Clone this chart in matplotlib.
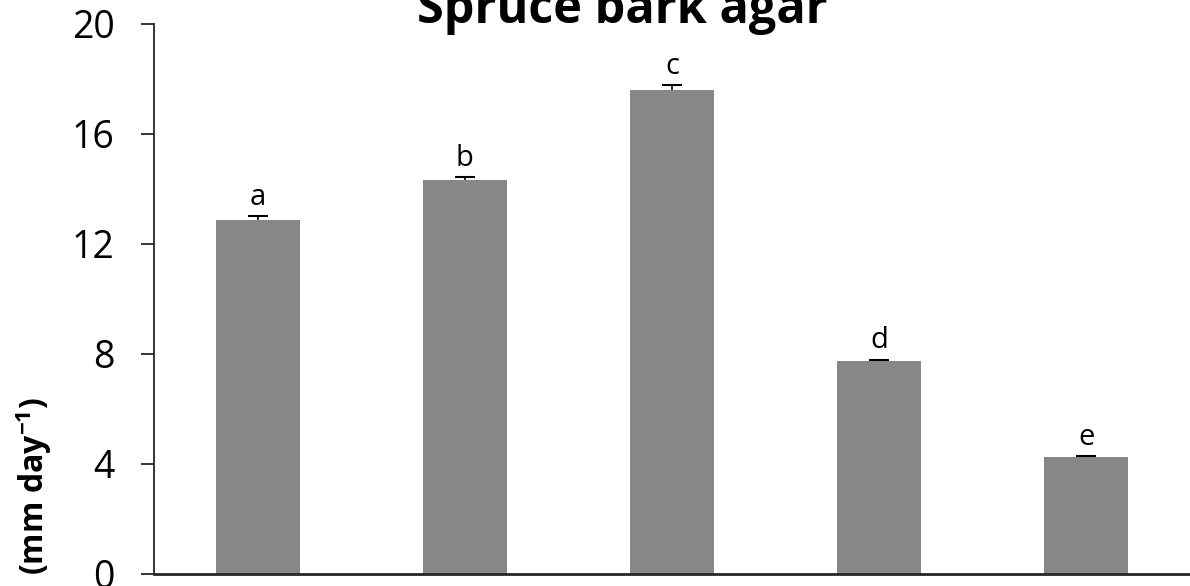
import matplotlib
matplotlib.use('Agg')
import matplotlib.pyplot as plt

# Growth rate on spruce bark agar.
categories = ['1', '2', '3', '4', '5']
growth = [12.87, 14.33, 17.6, 7.75, 4.25]
errors = [0.15, 0.12, 0.17, 0.05, 0.04]
groups = ['a', 'b', 'c', 'd', 'e']
yticks = [0, 4, 8, 12, 16, 20]

plt.rcParams['font.family'] = ['Open Sans', 'DejaVu Sans']
plt.rcParams['mathtext.fontset'] = 'custom'
plt.rcParams['mathtext.rm'] = 'Open Sans'
plt.rcParams['mathtext.bf'] = 'Open Sans:bold'

figure = plt.figure(figsize=(11.9, 5.86), dpi=100)
axes = figure.add_axes([154 / 1190, 12 / 586, 1 - 154 / 1190, 550 / 586])

positions = list(range(len(categories)))
axes.bar(positions, growth, width=0.405, color='#878787', zorder=2)
# Only the upper half of each error bar shows; the lower half hides behind the bar.
axes.errorbar(positions, growth, yerr=errors, fmt='none',
              ecolor='black', elinewidth=1.2, capsize=7, capthick=1.5, zorder=1)

# Group letters above each bar.
for x, value, err, letter in zip(positions, growth, errors, groups):
    axes.annotate(letter, xy=(x, value + err), xytext=(0, 8), textcoords='offset points',
                  ha='center', va='baseline', fontsize=21)

axes.set_xlim(-0.5, len(categories) - 0.5)
axes.set_ylim(0, 20)
axes.set_yticks(yticks)
axes.set_xticks([])
axes.tick_params(axis='y', labelsize=27, length=9.5, width=1.3, pad=19, color='#262626')

axes.spines[['right', 'top']].set_visible(False)
axes.spines['left'].set_color('#262626')
axes.spines['left'].set_linewidth(1.3)
axes.spines['bottom'].set_color('#262626')
axes.spines['bottom'].set_linewidth(2)

figure.text(0.523, 1 - 23 / 586, 'Spruce bark agar', ha='center', va='baseline',
            fontsize=35, fontweight='bold')
figure.text(0.028, 0.17, r'(mm day$\mathbf{^{-1}}$)', rotation=90, ha='center', va='center',
            fontsize=23, fontweight='bold')

figure.savefig('out.png', dpi=100)
